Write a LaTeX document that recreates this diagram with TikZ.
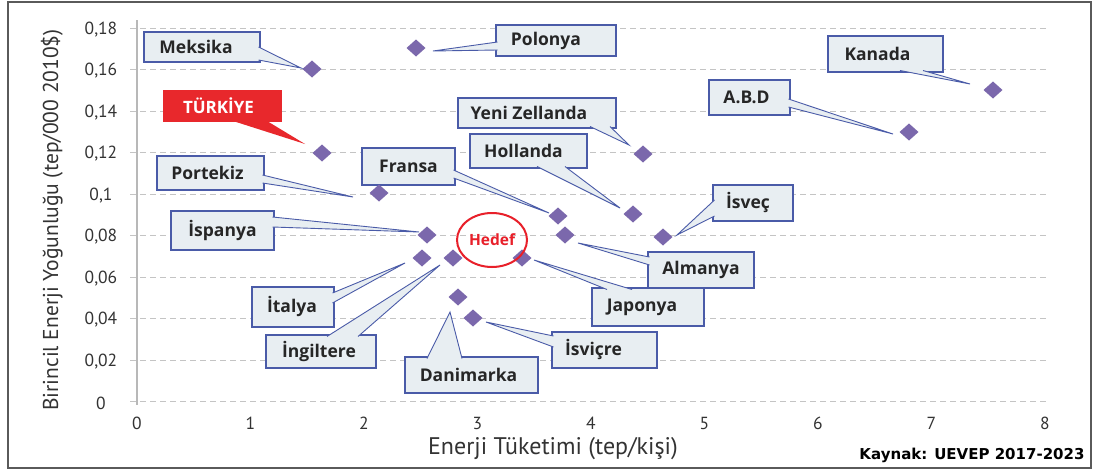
\documentclass[tikz,border=0pt]{standalone}
\usepackage{fontspec}
\setmainfont{PT Sans}
\newfontfamily\kaynakfont{DejaVu Sans}
\newfontfamily\boxfont{Open Sans}
\usetikzlibrary{shapes.geometric,calc}
\definecolor{boxfill}{HTML}{E8EEF2}
\definecolor{boxline}{HTML}{4A5BA8}
\definecolor{dia}{HTML}{7B68AC}
\definecolor{trred}{HTML}{E8282C}
\definecolor{hedefred}{HTML}{E8202A}
\definecolor{gridc}{HTML}{C4C4C4}
\definecolor{axisc}{HTML}{B8B8B8}
\definecolor{txt}{HTML}{262626}
\definecolor{tickc}{HTML}{333333}
\definecolor{framec}{HTML}{5A5A5A}
\newcommand{\mytail}[3]{\fill[boxfill] #1 -- #2 -- #3 -- cycle; \draw[tailln] #1 -- #2 -- #3;}
\tikzset{
  lbl/.style={draw=boxline, fill=boxfill, line width=1.1pt, outer sep=0pt, inner sep=0pt,
    font=\boxfont\bfseries\fontsize{17.5}{17.5}\selectfont, text=txt},
  dmd/.style={shape=diamond, fill=dia, inner sep=0pt, outer sep=0pt, minimum width=19pt, minimum height=17pt},
  tailln/.style={draw=boxline, line width=0.9pt, line join=miter},
  gridln/.style={draw=gridc, line width=1pt, dash pattern=on 6pt off 4pt},
  ticklbl/.style={font=\fontsize{17.5}{17.5}\selectfont, text=tickc},
}
\begin{document}
\begin{tikzpicture}[x=1pt,y=-1pt]
\useasboundingbox (0,0) rectangle (1098,471);
\fill[white] (0,0) rectangle (1098,471);
\draw[framec, line width=2pt] (8,2) rectangle (1091,468);
% grid
\foreach \i in {0,...,9} \draw[gridln] (130,{401.5-41.5*\i}) -- (1047,{401.5-41.5*\i});
\draw[axisc, line width=2.5pt] (137,20) -- (137,405);
% tick labels
\foreach \t [count=\i from 0] in {0,{0,02},{0,04},{0,06},{0,08},{0,1},{0,12},{0,14},{0,16},{0,18}}
  \node[ticklbl] (yt\i) at (101,{403-41.5*\i}) {\t};
\foreach \i in {0,...,8}
  \node[ticklbl] (xt\i) at ({137+113.5*\i},423) {\i};
\node[font=\fontsize{24}{24}\selectfont, text=tickc] (xtitle) at (553,449) {Enerji Tüketimi (tep/kişi)};
\node[font=\fontsize{21.5}{21.5}\selectfont, text=tickc, rotate=90] (ytitle) at (52,220) {Birincil Enerji Yoğunluğu (tep/000 2010\$)};
\node[font=\kaynakfont\bfseries\fontsize{15}{15}\selectfont, text=black] (kaynak) at (972,455) {Kaynak: UEVEP 2017-2023};
% label boxes
\node[lbl, minimum width=116pt, minimum height=30pt] (meks) at (202,47) {\kern-12pt Meksika};
\node[fill=trred, outer sep=0pt, inner sep=0pt, minimum width=119pt, minimum height=32pt, text=white, font=\boxfont\bfseries\fontsize{17}{17}\selectfont] (turk) at (222.5,106) {\kern-8pt TÜRKİYE};
\node[lbl, minimum width=107pt, minimum height=34pt] (port) at (210.5,173) {\kern-6pt Portekiz};
\node[lbl, minimum width=103pt, minimum height=39pt] (ispa) at (222.5,230.5) {İspanya};
\node[lbl, minimum width=82pt, minimum height=40pt] (ital) at (293,307) {\kern-2pt İtalya};
\node[lbl, minimum width=110pt, minimum height=33pt] (ingi) at (321,351.5) {\kern-4pt İngiltere};
\node[lbl, minimum width=133pt, minimum height=36pt] (dani) at (471.5,375) {\kern-6pt Danimarka};
\node[lbl, minimum width=105pt, minimum height=36pt] (isvi) at (604.5,350) {\kern-22pt İsviçre};
\node[lbl, minimum width=112pt, minimum height=38pt] (japo) at (648,307) {\kern-12pt Japonya};
\node[lbl, minimum width=106pt, minimum height=36pt] (alma) at (701,270) {Almanya};
\node[lbl, minimum width=117pt, minimum height=34pt] (holl) at (528.5,151) {\kern-10pt Hollanda};
\node[lbl, minimum width=93pt, minimum height=37pt] (fran) at (408.5,166.5) {Fransa};
\node[lbl, minimum width=158pt, minimum height=30pt] (yeni) at (537,113) {\kern-16pt Yeni Zellanda};
\node[lbl, minimum width=120pt, minimum height=31pt] (polo) at (556,40.5) {\kern-20pt Polonya};
\node[lbl, minimum width=115pt, minimum height=36pt] (kana) at (885.5,54) {\kern-16pt Kanada};
\node[lbl, minimum width=81pt, minimum height=35pt] (abd) at (749.5,97.5) {\kern-6pt A.B.D};
\node[lbl, minimum width=80pt, minimum height=36pt] (isve) at (753,203) {\kern-10pt İsveç};
% data points
\node[dmd] (meksd) at (312,69) {};
\node[dmd] (turkd) at (322,153) {};
\node[dmd] (portd) at (379,193) {};
\node[dmd] (polod) at (416,48) {};
\node[dmd] (kanad) at (993,90) {};
\node[dmd] (abdd) at (909,132) {};
\node[dmd] (yenid) at (643,154) {};
\node[dmd] (frand) at (558,216) {};
\node[dmd] (holld) at (633,214) {};
\node[dmd] (isved) at (663,237) {};
\node[dmd] (almad) at (565,235) {};
\node[dmd] (japod) at (522,258) {};
\node[dmd] (ispad) at (427,235) {};
\node[dmd] (itald) at (422,258) {};
\node[dmd] (ingid) at (453,258) {};
\node[dmd] (danid) at (458,297) {};
\node[dmd] (isvid) at (473,318) {};
% tails
\mytail{($(meks.north east)+(-1.5,15)$)}{($(meksd)+(-11,-1)$)}{($(meks.north east)+(-1.5,28)$)}
\fill[trred] ($(turk.south west)+(70,-1)$) -- ($(turkd)+(-17,-9)$) -- ($(turk.south west)+(104,-1)$) -- cycle;
\mytail{($(port.north east)+(-1.5,19)$)}{($(portd)+(-26,4)$)}{($(port.north east)+(-1.5,27)$)}
\mytail{($(ispa.north east)+(-1.5,6)$)}{($(ispad)+(-8,-3)$)}{($(ispa.north east)+(-1.5,16)$)}
\mytail{($(ital.north east)+(-1.5,6)$)}{($(itald)+(-17,5)$)}{($(ital.north east)+(-1.5,16)$)}
\mytail{($(ingi.north west)+(61,1.5)$)}{($(ingid)+(-13,7)$)}{($(ingi.north west)+(92,1.5)$)}
\mytail{($(dani.north west)+(22,1.5)$)}{($(danid)+(-8,15)$)}{($(dani.north west)+(57,1.5)$)}
\mytail{($(isvi.north west)+(1.5,4)$)}{($(isvid)+(13,4)$)}{($(isvi.north west)+(1.5,15)$)}
\mytail{($(japo.north west)+(15,1.5)$)}{($(japod)+(12,2)$)}{($(japo.north west)+(40,1.5)$)}
\mytail{($(alma.north west)+(1.5,5)$)}{($(almad)+(13,8)$)}{($(alma.north west)+(1.5,13)$)}
\mytail{($(holl.south west)+(67,-1.5)$)}{($(holld)+(-13,-6)$)}{($(holl.south west)+(95,-1.5)$)}
\mytail{($(fran.north east)+(-1.5,22)$)}{($(frand)+(-9,-3)$)}{($(fran.north east)+(-1.5,30)$)}
\mytail{($(yeni.south west)+(132,-1.5)$)}{($(yenid)+(-14,-9)$)}{($(yeni.south west)+(152,-1.5)$)}
\mytail{($(polo.north west)+(1.5,17)$)}{($(polod)+(17,3)$)}{($(polo.north west)+(1.5,25)$)}
\mytail{($(kana.south west)+(72,-1.5)$)}{($(kanad)+(-23,-6)$)}{($(kana.south west)+(95,-1.5)$)}
\mytail{($(abd.north east)+(-1.5,19)$)}{($(abdd)+(-16,2)$)}{($(abd.north east)+(-1.5,27)$)}
\mytail{($(isve.north west)+(1.5,15)$)}{($(isved)+(14,-2)$)}{($(isve.north west)+(1.5,31)$)}
% target
\node[ellipse, draw=hedefred, line width=2pt, minimum width=70pt, minimum height=54pt, inner sep=0pt,
  text=hedefred, font=\boxfont\bfseries\fontsize{15.5}{15.5}\selectfont] (hedef) at (492,240) {Hedef};
\end{tikzpicture}
\end{document}
